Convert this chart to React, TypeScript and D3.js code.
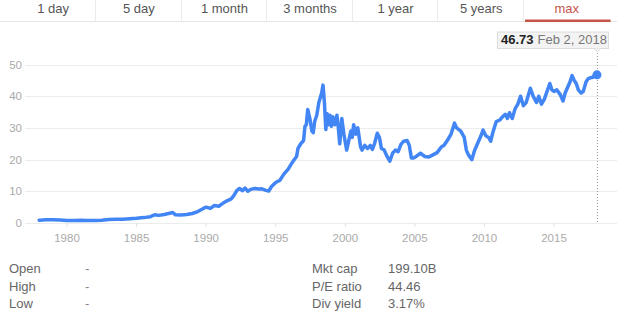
import React from "react";
import * as d3 from "d3";

const tabs = ["1 day", "5 day", "1 month", "3 months", "1 year", "5 years", "max"];
const activeTab = "max";
const yTicks = [0, 10, 20, 30, 40, 50];
const xTicks = [1980, 1985, 1990, 1995, 2000, 2005, 2010, 2015];

const years = [
  1978.0, 1978.5, 1979.0, 1979.5, 1980.0, 1980.5, 1981.0, 1981.5, 1982.0, 1982.5,
  1983.0, 1983.5, 1984.0, 1984.5, 1985.0, 1985.5, 1986.0, 1986.3, 1986.6, 1987.0,
  1987.3, 1987.6, 1987.8, 1988.2, 1988.6, 1989.0, 1989.4, 1989.8, 1990.0, 1990.3,
  1990.6, 1990.9, 1991.2, 1991.5, 1991.8, 1992.0, 1992.2, 1992.4, 1992.6, 1992.8,
  1993.0, 1993.2, 1993.5, 1993.8, 1994.0, 1994.3, 1994.5, 1994.7, 1995.0, 1995.3,
  1995.6, 1995.9, 1996.1, 1996.3, 1996.5, 1996.6, 1996.8, 1997.0, 1997.1, 1997.2,
  1997.3, 1997.45, 1997.6, 1997.7, 1997.8, 1997.95, 1998.1, 1998.3, 1998.4, 1998.5,
  1998.6, 1998.7, 1998.8, 1998.9, 1999.0, 1999.1, 1999.25, 1999.4, 1999.5, 1999.6,
  1999.75, 1999.9, 2000.1, 2000.25, 2000.4, 2000.5, 2000.6, 2000.75, 2000.9, 2001.1,
  2001.2, 2001.4, 2001.6, 2001.8, 2001.95, 2002.1, 2002.3, 2002.45, 2002.6, 2002.8,
  2003.0, 2003.2, 2003.4, 2003.6, 2003.8, 2004.0, 2004.2, 2004.45, 2004.6, 2004.75,
  2004.9, 2005.1, 2005.4, 2005.7, 2006.0, 2006.3, 2006.6, 2006.9, 2007.1, 2007.4,
  2007.6, 2007.85, 2008.0, 2008.3, 2008.55, 2008.7, 2008.85, 2009.1, 2009.3, 2009.5,
  2009.75, 2009.9, 2010.1, 2010.3, 2010.45, 2010.6, 2010.85, 2011.1, 2011.3, 2011.5,
  2011.65, 2011.8, 2012.0, 2012.2, 2012.4, 2012.6, 2012.8, 2013.0, 2013.3, 2013.5,
  2013.75, 2013.9, 2014.1, 2014.3, 2014.5, 2014.7, 2014.85, 2015.0, 2015.2, 2015.45,
  2015.65, 2015.8, 2015.95, 2016.15, 2016.3, 2016.45, 2016.6, 2016.75, 2016.95, 2017.1,
  2017.3, 2017.45, 2017.6, 2017.8, 2017.95, 2018.09,
];
const prices = [
  0.9, 1.0, 1.0, 0.95, 0.8, 0.75, 0.85, 0.8, 0.75, 0.85,
  1.1, 1.2, 1.15, 1.35, 1.5, 1.7, 2.0, 2.6, 2.4, 2.7,
  3.0, 3.3, 2.6, 2.5, 2.7, 3.0, 3.6, 4.6, 5.0, 4.6,
  5.5, 5.3, 6.2, 7.0, 7.6, 8.7, 10.2, 10.9, 10.2, 11.0,
  10.0, 10.6, 10.9, 10.7, 10.8, 10.3, 10.1, 11.5, 12.8, 13.5,
  15.5, 17.0, 18.5, 19.8, 21.0, 23.5, 25.0, 26.0, 30.5, 31.0,
  35.8, 33.0, 29.0, 28.5, 32.0, 34.0, 38.0, 41.0, 43.5, 38.0,
  29.5, 34.5, 31.0, 34.0, 30.5, 33.5, 31.0, 34.0, 30.0, 25.0,
  33.0, 28.0, 23.0, 26.0, 29.0, 27.0, 31.0, 28.0, 30.0, 24.0,
  23.0, 24.5, 23.5, 24.5, 23.2, 25.0, 28.3, 27.0, 23.5, 23.0,
  21.0, 19.5, 22.0, 23.0, 22.5, 24.8, 25.8, 26.0, 24.5, 20.5,
  20.5, 21.0, 22.0, 21.0, 20.8, 21.5, 22.2, 24.0, 24.5, 26.5,
  28.0, 31.5, 30.0, 29.0, 27.0, 23.0, 21.5, 20.0, 23.0, 25.0,
  27.5, 29.3, 27.5, 27.0, 25.8, 28.5, 32.0, 32.5, 33.5, 34.3,
  33.0, 34.8, 33.0, 36.0, 37.5, 40.0, 37.0, 38.0, 42.5, 40.0,
  38.0, 40.0, 37.5, 39.0, 41.5, 44.0, 42.0, 41.5, 42.0, 40.5,
  38.5, 41.0, 42.5, 44.5, 46.5, 45.0, 44.0, 42.0, 41.0, 41.5,
  44.5, 45.5, 45.8, 46.0, 46.8, 46.73,
];
const lastLabel = "46.73";
const lastDate = "Feb 2, 2018";
const statsLeft = [["Open", "-"], ["High", "-"], ["Low", "-"]];
const statsRight = [["Mkt cap", "199.10B"], ["P/E ratio", "44.46"], ["Div yield", "3.17%"]];

export default function App() {
  const W = 617, H = 324;
  const x = d3.scaleLinear().domain([1980, 2015]).range([67, 554]);
  const y = d3.scaleLinear().domain([0, 50]).range([223, 64.5]);
  const pts: [number, number][] = years.map((yr, i) => [yr, prices[i]]);
  const line = d3.line<[number, number]>().x(d => x(d[0])).y(d => y(d[1]));
  const lx = x(years[years.length - 1]);
  const ly = y(prices[prices.length - 1]);
  const font = "'Liberation Sans', Arial, sans-serif";
  const tabW = 85.6, tabX0 = 10.4;
  const boxX = 497, boxY = 31.5, boxW = 111, boxH = 16.5;
  return (
    <svg width={W} height={H} style={{ position: "absolute", left: 0, top: 0, background: "#fff" }} fontFamily={font}>
      {/* tabs */}
      <line x1={0} x2={W} y1={21.5} y2={21.5} stroke="#e6e6e6" />
      {tabs.map((t, i) => (
        <g key={t}>
          {i > 0 && <line x1={Math.round(tabX0 + tabW * i) - 0.5} x2={Math.round(tabX0 + tabW * i) - 0.5} y1={0} y2={21} stroke="#ebebeb" />}
          <text x={tabX0 + tabW * i + tabW / 2} y={13} textAnchor="middle" fontSize={13}
            fill={t === activeTab ? "#c5564a" : "#555"}>{t}</text>
          {t === activeTab && <rect x={tabX0 + tabW * i + 1} y={19.5} width={tabW} height={2.5} fill="#c5564a" />}
        </g>
      ))}
      {/* grid */}
      {yTicks.map(v => (
        <g key={v}>
          <line x1={25} x2={W} y1={Math.round(y(v)) + 0.5} y2={Math.round(y(v)) + 0.5} stroke="#ececec" />
          <text x={22} y={y(v) + 4} textAnchor="end" fontSize={11.5} fill="#aaa">{v}</text>
        </g>
      ))}
      {xTicks.map(v => (
        <g key={v}>
          <line x1={x(v)} x2={x(v)} y1={223} y2={227} stroke="#e0e0e0" />
          <text x={x(v)} y={242} textAnchor="middle" fontSize={11.5} fill="#aaa">{v}</text>
        </g>
      ))}
      {/* dotted guide */}
      <line x1={lx + 0.5} x2={lx + 0.5} y1={boxY + boxH + 2} y2={223} stroke="#999" strokeDasharray="1,2" />
      {/* line */}
      <path d={line(pts) || ""} fill="none" stroke="#4285f4" strokeWidth={3.5} strokeLinejoin="round" strokeLinecap="round" />
      <circle cx={lx} cy={ly} r={4.5} fill="#4285f4" />
      {/* tooltip */}
      <rect x={boxX + 0.5} y={boxY + 0.5} width={boxW} height={boxH} fill="#f3f3f3" stroke="#dcdcdc" />
      <path d={`M${lx - 3},${boxY + boxH + 0.5} L${lx + 0.5},${boxY + boxH + 4} L${lx + 4},${boxY + boxH + 0.5}`} fill="#f3f3f3" stroke="#dcdcdc" />
      <text x={boxX + 4} y={44} fontSize={13}>
        <tspan fontWeight="bold" fill="#222">{lastLabel}</tspan>
        <tspan fill="#777" dx={4}>{lastDate}</tspan>
      </text>
      {/* stats */}
      {statsLeft.map((r, i) => (
        <g key={r[0]}>
          <text x={9} y={273 + i * 17.5} fontSize={13} fill="#666">{r[0]}</text>
          <text x={85} y={273 + i * 17.5} fontSize={13} fill="#888">{r[1]}</text>
        </g>
      ))}
      {statsRight.map((r, i) => (
        <g key={r[0]}>
          <text x={312} y={273 + i * 17.5} fontSize={13} fill="#666">{r[0]}</text>
          <text x={388} y={273 + i * 17.5} fontSize={13} fill="#666">{r[1]}</text>
        </g>
      ))}
    </svg>
  );
}
